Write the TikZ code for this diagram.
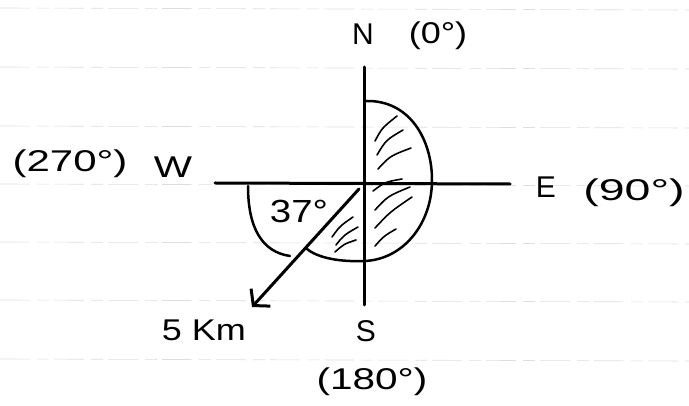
\documentclass[tikz,border=0pt]{standalone}
\usepackage{fontspec}
\setmainfont{Liberation Sans}
\usetikzlibrary{arrows.meta}
\newcommand{\sx}[2]{\scalebox{#1}[1]{#2}}
\begin{document}
\begin{tikzpicture}[x=1pt,y=-1pt,
  rule/.style={draw=black!13, line width=0.6pt, dash pattern=on 30pt off 7pt on 12pt off 5pt},
  axis/.style={draw=black, line width=3pt, line cap=round},
  pen/.style={draw=black, line width=2.5pt, line cap=round},
  hatch/.style={draw=black, line width=1.6pt, line cap=round},
  lbl/.style={inner sep=0pt, font=\fontsize{30}{32}\selectfont}]
\useasboundingbox (0,0) rectangle (689,406);
\fill[white] (0,0) rectangle (689,406);
% lined paper
\foreach \yy in {8,67,126,184,242,300,359}
  \draw[rule] (0,\yy) -- (689,\yy+2);
% key points
\coordinate (O) at (364,183);
\coordinate (Ntop) at (364,67);
\coordinate (Sbot) at (364,305);
\coordinate (Wend) at (215,183);
\coordinate (Eend) at (510,184);
\coordinate (start) at (359,189);
\coordinate (tip) at (252,307);
% shaded region outline
\draw[pen] (366,101) .. controls (410,100) and (432,140) .. (432,180)
  .. controls (432,225) and (402,260) .. (364,261)
  .. controls (340,262) and (318,258) .. (307,249);
% hatching
\draw[hatch] (375,141) .. controls (382,128) .. (397,116);
\draw[hatch] (377,155) .. controls (386,140) .. (403,130);
\draw[hatch] (378,169) .. controls (390,156) .. (411,148);
\draw[hatch] (373,191) .. controls (385,182) .. (402,179);
\draw[hatch] (375,210) .. controls (388,196) .. (410,187);
\draw[hatch] (375,228) .. controls (390,212) .. (412,197);
\draw[hatch] (375,246) .. controls (384,236) .. (396,229);
\draw[hatch] (332,237) .. controls (340,226) .. (353,217);
\draw[hatch] (336,245) .. controls (344,235) .. (358,227);
\draw[hatch] (335,252) .. controls (344,244) .. (356,240);
% angle arc
\draw[pen] (248,186) .. controls (248,228) and (262,252) .. (290,256);
% axes
\draw[axis] (Ntop) -- (Sbot);
\draw[axis] (Wend) -- (Eend);
% displacement arrow
\draw[axis, -{Straight Barb[length=11pt,width=26pt]}] (start) -- (tip);
% labels
\node[lbl] (N) at (363,34) {N};
\node[lbl] (N0) at (438,36) {\sx{1.2}{(0°)}};
\node[lbl] (W270) at (70,164) {\sx{1.4}{(270°)}};
\node[lbl] (W) at (173,167) {\sx{1.35}{W}};
\node[lbl] (E) at (546,187) {E};
\node[lbl] (E90) at (634,193) {\sx{1.55}{(90°)}};
\node[lbl] (S) at (366,331) {S};
\node[lbl] (S180) at (372,382) {\sx{1.35}{(180°)}};
\node[lbl] (km) at (204,330) {\sx{1.2}{5 Km}};
\node[lbl, font=\fontsize{32}{34}\selectfont] (ang) at (299,211) {\sx{1.2}{37°}};
\end{tikzpicture}
\end{document}
